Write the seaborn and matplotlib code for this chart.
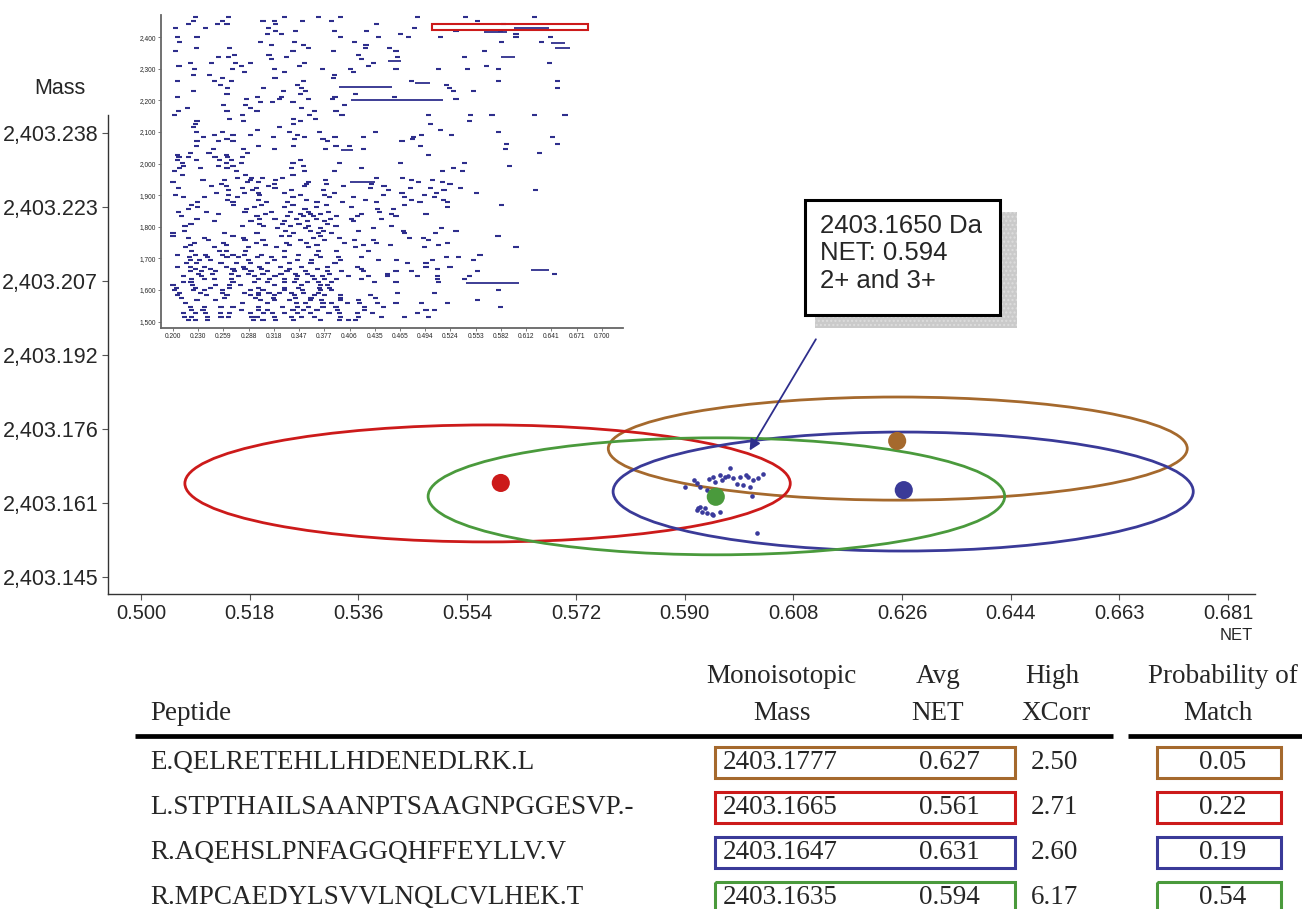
import numpy as np
import matplotlib
matplotlib.use("Agg")
import matplotlib.pyplot as plt
from matplotlib.patches import Ellipse, Rectangle
import seaborn as sns

# ---- main plot: match ellipses (brown, red, blue, green) ----
match_names = ["brown", "red", "blue", "green"]
match_colors = ["#a5692d", "#cc1a1a", "#3a3a98", "#4a9a3c"]
ell_net = [0.6260, 0.5577, 0.6269, 0.5958]
ell_mass = [2403.1719, 2403.1646, 2403.1629, 2403.1619]
ell_half_net = [0.0482, 0.0504, 0.0483, 0.0480]
ell_half_mass = [0.0108, 0.01225, 0.01246, 0.01225]
dot_net = [0.6259, 0.5599, 0.6270, 0.5957]
dot_mass = [2403.1735, 2403.1647, 2403.1632, 2403.1618]

# observed feature cluster (NET, mass)
cluster_net = [0.5906, 0.5920, 0.5925, 0.5931, 0.5942, 0.5953, 0.5964, 0.5972, 0.5981, 0.5986,
               0.5997, 0.6008, 0.6019, 0.6028, 0.6036, 0.5992, 0.6003, 0.6014, 0.6017, 0.5925,
               0.5934, 0.5942, 0.5953, 0.5964, 0.5931, 0.5939, 0.6025, 0.5956, 0.5967, 0.5946,
               0.5978, 0.6011, 0.5928, 0.5950]
cluster_mass = [2403.16379, 2403.16532, 2403.16463, 2403.16379, 2403.16322, 2403.16588, 2403.16637,
                2403.16601, 2403.16777, 2403.16567, 2403.16601, 2403.16637, 2403.16532, 2403.16567,
                2403.16657, 2403.16448, 2403.16421, 2403.16391, 2403.16197, 2403.15903, 2403.15868,
                2403.15834, 2403.15799, 2403.15868, 2403.15973, 2403.15939, 2403.15415, 2403.16496,
                2403.16532, 2403.16560, 2403.16620, 2403.16600, 2403.15950, 2403.15820]

callout_lines = ["2403.1650 Da", "NET: 0.594", "2+ and 3+"]
arrow_from = (0.6126, 2403.1953)
arrow_to = (0.6011, 2403.1710)

x_tick_labels = ["0.500", "0.518", "0.536", "0.554", "0.572", "0.590",
                 "0.608", "0.626", "0.644", "0.663", "0.681"]
y_tick_labels = ["2,403.145", "2,403.161", "2,403.176", "2,403.192",
                 "2,403.207", "2,403.223", "2,403.238"]

# ---- inset: all features (mass, list of NET) ----
inset_rows = [
    (2465, [0.226, 0.265, 0.330, 0.370, 0.395, 0.485, 0.541, 0.622]),
    (2452, [0.224, 0.258, 0.305, 0.318, 0.351, 0.385, 0.555]),
    (2442, [0.218, 0.252, 0.263, 0.320, 0.437, 0.585]),
    (2428, [0.203, 0.238, 0.311, 0.482]),
    (2418, [0.320, 0.343, 0.388, 0.426, 0.530, 0.582]),
    (2410, [0.310, 0.327, 0.465, 0.600]),
    (2400, [0.205, 0.228, 0.395, 0.440, 0.475, 0.512, 0.600, 0.640]),
    (2385, [0.208, 0.302, 0.342, 0.412, 0.583, 0.630]),
    (2376, [0.315, 0.352, 0.425]),
    (2365, [0.227, 0.266, 0.358, 0.424, 0.452]),
    (2355, [0.203, 0.340, 0.387, 0.460, 0.563]),
    (2345, [0.272, 0.312, 0.416]),
    (2337, [0.253, 0.265, 0.332, 0.462, 0.540]),
    (2330, [0.315, 0.420]),
    (2318, [0.220, 0.245, 0.273, 0.290, 0.353, 0.434, 0.639]),
    (2308, [0.207, 0.280, 0.348, 0.428, 0.566]),
    (2300, [0.225, 0.269, 0.318, 0.374, 0.407, 0.460, 0.510, 0.543, 0.580]),
    (2290, [0.283, 0.330, 0.410]),
    (2280, [0.224, 0.243, 0.388]),
    (2270, [0.258, 0.319, 0.387]),
    (2260, [0.205, 0.248, 0.268, 0.352, 0.478, 0.580, 0.648]),
    (2250, [0.255, 0.345, 0.519]),
    (2240, [0.264, 0.306, 0.350, 0.522, 0.648]),
    (2230, [0.224, 0.329, 0.355, 0.527, 0.550]),
    (2220, [0.263, 0.349, 0.413]),
    (2212, [0.205, 0.299, 0.327, 0.389, 0.458]),
    (2204, [0.286, 0.324, 0.358, 0.386, 0.530]),
    (2195, [0.302, 0.316, 0.340]),
    (2185, [0.259, 0.285, 0.400]),
    (2175, [0.217, 0.290, 0.350]),
    (2165, [0.206, 0.263, 0.298, 0.365, 0.390]),
    (2155, [0.202, 0.281, 0.359, 0.397, 0.498, 0.547, 0.572, 0.622, 0.657]),
    (2142, [0.266, 0.341, 0.366]),
    (2135, [0.228, 0.282, 0.349, 0.546]),
    (2125, [0.226, 0.341, 0.500]),
    (2115, [0.224, 0.324]),
    (2107, [0.299, 0.512]),
    (2100, [0.227, 0.258, 0.336, 0.371, 0.436, 0.580]),
    (2090, [0.248, 0.270, 0.290, 0.345, 0.490, 0.525]),
    (2085, [0.236, 0.317, 0.353, 0.389, 0.422, 0.480, 0.643]),
    (2078, [0.263, 0.342, 0.375, 0.479]),
    (2070, [0.228, 0.253, 0.270, 0.380, 0.467]),
    (2063, [0.589, 0.648]),
    (2056, [0.227, 0.300, 0.341, 0.390, 0.406, 0.489]),
    (2045, [0.247, 0.282, 0.318, 0.378, 0.422, 0.588]),
    (2035, [0.220, 0.242, 0.287, 0.627]),
    (2027, [0.205, 0.262, 0.498]),
    (2020, [0.207, 0.218, 0.249, 0.264, 0.281]),
    (2010, [0.205, 0.227, 0.254, 0.268, 0.349]),
    (2002, [0.211, 0.262, 0.280, 0.340, 0.394, 0.465, 0.540]),
    (1992, [0.212, 0.253, 0.270, 0.352, 0.592]),
    (1985, [0.208, 0.232, 0.263, 0.338, 0.420, 0.527]),
    (1975, [0.202, 0.274, 0.353, 0.388, 0.514, 0.538]),
    (1965, [0.211, 0.285, 0.340]),
    (1955, [0.275, 0.292, 0.304, 0.328, 0.437, 0.468]),
    (1948, [0.235, 0.260, 0.290, 0.320, 0.378, 0.478, 0.503]),
    (1942, [0.200, 0.287, 0.300, 0.358, 0.486, 0.514]),
    (1935, [0.257, 0.318, 0.356, 0.379, 0.431, 0.523]),
    (1928, [0.245, 0.262, 0.311, 0.353, 0.399, 0.446]),
    (1922, [0.206, 0.281, 0.297, 0.319, 0.430, 0.477, 0.500, 0.535]),
    (1915, [0.265, 0.293, 0.338, 0.376, 0.451, 0.516, 0.623]),
    (1908, [0.251, 0.283, 0.300, 0.330, 0.388, 0.467, 0.507, 0.554]),
    (1900, [0.203, 0.265, 0.301, 0.349, 0.377, 0.445, 0.493]),
    (1893, [0.212, 0.237, 0.275, 0.340, 0.383, 0.410, 0.470, 0.505]),
    (1885, [0.264, 0.300, 0.356, 0.424, 0.478, 0.515]),
    (1878, [0.229, 0.270, 0.309, 0.334, 0.368, 0.398, 0.437, 0.488, 0.520]),
    (1870, [0.222, 0.271, 0.303, 0.340, 0.379, 0.470, 0.583]),
    (1862, [0.229, 0.295, 0.330, 0.367, 0.408, 0.520]),
    (1855, [0.218, 0.286, 0.354, 0.438, 0.457]),
    (1848, [0.206, 0.239, 0.284, 0.315, 0.337, 0.358, 0.381, 0.441]),
    (1840, [0.253, 0.308, 0.349, 0.360, 0.372, 0.420, 0.455, 0.495]),
    (1833, [0.210, 0.298, 0.334, 0.352, 0.364, 0.391, 0.415, 0.460]),
    (1825, [0.228, 0.301, 0.319, 0.344, 0.367, 0.384, 0.408, 0.443]),
    (1818, [0.248, 0.291, 0.330, 0.357, 0.377, 0.410]),
    (1810, [0.221, 0.301, 0.328, 0.347, 0.380]),
    (1802, [0.214, 0.281, 0.306, 0.337, 0.358, 0.390, 0.455]),
    (1795, [0.322, 0.355, 0.372, 0.434, 0.513]),
    (1788, [0.213, 0.331, 0.360, 0.376, 0.416, 0.469, 0.530]),
    (1780, [0.200, 0.260, 0.298, 0.341, 0.370, 0.385, 0.470, 0.506]),
    (1772, [0.200, 0.270, 0.327, 0.336, 0.372, 0.579]),
    (1765, [0.218, 0.237, 0.282, 0.364, 0.394, 0.476, 0.492]),
    (1758, [0.241, 0.284, 0.305, 0.349, 0.377, 0.412, 0.434, 0.498]),
    (1750, [0.225, 0.259, 0.297, 0.332, 0.356, 0.400, 0.437, 0.520]),
    (1742, [0.220, 0.262, 0.308, 0.336, 0.368, 0.422, 0.454, 0.510]),
    (1735, [0.215, 0.248, 0.288, 0.321, 0.358, 0.413, 0.493, 0.600]),
    (1722, [0.222, 0.254, 0.262, 0.285, 0.330, 0.370, 0.391, 0.428]),
    (1712, [0.205, 0.226, 0.238, 0.258, 0.270, 0.283, 0.303, 0.346, 0.367, 0.558]),
    (1705, [0.219, 0.240, 0.263, 0.276, 0.299, 0.315, 0.330, 0.372, 0.393, 0.420, 0.519, 0.533]),
    (1695, [0.220, 0.231, 0.244, 0.288, 0.318, 0.345, 0.362, 0.395, 0.440, 0.461, 0.503, 0.550]),
    (1685, [0.216, 0.227, 0.256, 0.274, 0.290, 0.310, 0.336, 0.361, 0.389, 0.473, 0.495]),
    (1674, [0.205, 0.220, 0.237, 0.262, 0.282, 0.301, 0.325, 0.350, 0.380, 0.415, 0.495, 0.523]),
    (1668, [0.226, 0.244, 0.270, 0.284, 0.303, 0.336, 0.369, 0.420, 0.508]),
    (1660, [0.220, 0.233, 0.250, 0.272, 0.291, 0.310, 0.333, 0.355, 0.380, 0.396, 0.422, 0.460, 0.478, 0.555]),
    (1652, [0.230, 0.246, 0.268, 0.288, 0.305, 0.326, 0.343, 0.357, 0.383, 0.450, 0.645]),
    (1645, [0.212, 0.233, 0.276, 0.295, 0.319, 0.345, 0.363, 0.374, 0.405, 0.428, 0.450, 0.485, 0.508, 0.546]),
    (1635, [0.222, 0.237, 0.248, 0.268, 0.300, 0.313, 0.330, 0.344, 0.365, 0.377, 0.391, 0.420, 0.508, 0.540]),
    (1627, [0.212, 0.221, 0.270, 0.295, 0.310, 0.330, 0.342, 0.357, 0.370, 0.385, 0.435, 0.460, 0.510]),
    (1616, [0.200, 0.223, 0.250, 0.266, 0.279, 0.318, 0.350, 0.372, 0.380]),
    (1608, [0.204, 0.226, 0.244, 0.266, 0.300, 0.330, 0.346, 0.371, 0.383]),
    (1600, [0.202, 0.224, 0.237, 0.258, 0.290, 0.305, 0.330, 0.351, 0.372, 0.385, 0.580]),
    (1592, [0.208, 0.232, 0.258, 0.283, 0.300, 0.312, 0.324, 0.338, 0.352, 0.370, 0.462, 0.505]),
    (1584, [0.205, 0.239, 0.263, 0.290, 0.300, 0.318, 0.342, 0.365, 0.377, 0.395, 0.430]),
    (1575, [0.210, 0.260, 0.296, 0.317, 0.343, 0.361, 0.395, 0.436]),
    (1567, [0.228, 0.250, 0.302, 0.318, 0.336, 0.360, 0.373, 0.395, 0.416, 0.555]),
    (1558, [0.215, 0.281, 0.310, 0.344, 0.355, 0.375, 0.385, 0.403, 0.417, 0.438, 0.460, 0.490, 0.520]),
    (1547, [0.220, 0.237, 0.256, 0.270, 0.300, 0.328, 0.345, 0.358, 0.375, 0.390, 0.423, 0.445, 0.582]),
    (1537, [0.222, 0.235, 0.280, 0.300, 0.310, 0.340, 0.352, 0.368, 0.392, 0.423, 0.495, 0.505]),
    (1527, [0.212, 0.226, 0.238, 0.255, 0.266, 0.290, 0.306, 0.316, 0.330, 0.345, 0.360, 0.382, 0.394, 0.415, 0.433, 0.485]),
    (1516, [0.213, 0.222, 0.240, 0.256, 0.265, 0.292, 0.298, 0.318, 0.338, 0.350, 0.365, 0.395, 0.416, 0.443, 0.470, 0.498]),
    (1505, [0.218, 0.226, 0.240, 0.294, 0.305, 0.320, 0.341, 0.372, 0.394, 0.405, 0.413]),
]
# long features: (mass, net start, net end)
long_mass = [2200, 2243, 1622, 1663, 2430, 2415, 2365, 2383, 2337, 2256, 2325, 1943, 2043]
long_start = [0.408, 0.394, 0.542, 0.618, 0.598, 0.563, 0.645, 0.641, 0.583, 0.482, 0.451, 0.406, 0.396]
long_end = [0.515, 0.455, 0.603, 0.638, 0.638, 0.590, 0.663, 0.657, 0.599, 0.500, 0.466, 0.435, 0.410]
zoom_box = [0.502, 0.684, 2421, 2442]

inset_x_labels = ["0.200", "0.230", "0.259", "0.288", "0.318", "0.347", "0.377", "0.406", "0.435",
                  "0.465", "0.494", "0.524", "0.553", "0.582", "0.612", "0.641", "0.671", "0.700"]
inset_y_labels = ["1,500", "1,600", "1,700", "1,800", "1,900", "2,000", "2,100", "2,200", "2,300", "2,400"]

# ---- table ----
peptides = ["E.QELRETEHLLHDENEDLRK.L", "L.STPTHAILSAANPTSAAGNPGGESVP.-",
            "R.AQEHSLPNFAGGQHFFEYLLV.V", "R.MPCAEDYLSVVLNQLCVLHEK.T"]
mono_mass = ["2403.1777", "2403.1665", "2403.1647", "2403.1635"]
avg_net = ["0.627", "0.561", "0.631", "0.594"]
high_xcorr = ["2.50", "2.71", "2.60", "6.17"]
prob_match = ["0.05", "0.22", "0.19", "0.54"]

sns.set_style("ticks")
plt.rcParams['font.family'] = ['Liberation Sans', 'DejaVu Sans']
navy = "#2e2e8c"

fig = plt.figure(figsize=(13.02, 9.09), dpi=100)
ax = fig.add_axes([108/1302, 1-594/909, 1147/1302, 479/909])

for i in range(4):
    ax.add_patch(Ellipse((ell_net[i], ell_mass[i]), 2*ell_half_net[i], 2*ell_half_mass[i],
                         fill=False, ec=match_colors[i], lw=2.0, zorder=2))

sns.scatterplot(x=cluster_net, y=cluster_mass, ax=ax, color="#3a3a9c", s=11,
                linewidth=0, zorder=3)
sns.scatterplot(x=dot_net, y=dot_mass, hue=match_names, palette=dict(zip(match_names, match_colors)),
                s=170, ax=ax, legend=False, linewidth=0, zorder=4)

ax.annotate("", xy=arrow_to, xytext=arrow_from,
            arrowprops=dict(arrowstyle="-|>", color=navy, lw=1.3, mutation_scale=16), zorder=5)

# callout box with shadow
ax.add_patch(Rectangle((0.6164, 0.5553), 0.1761, 0.2422, transform=ax.transAxes,
                       fc="#cacaca", ec="#dddddd", hatch="....", lw=0, zorder=5))
ax.add_patch(Rectangle((0.6077, 0.5825), 0.1700, 0.2400, transform=ax.transAxes,
                       fc="white", ec="black", lw=2.2, zorder=6))
for k, line in enumerate(callout_lines):
    ax.text(0.6207, (594 - (226 + 27.5*k))/479, line, transform=ax.transAxes, fontsize=18.5,
            va="center", ha="left", zorder=7)

ax.set_xlim(0.49450, 0.68548)
ax.set_ylim(2403.14144, 2403.24177)
ax.set_xticks(np.linspace(0.500, 0.681, 11))
ax.set_xticklabels(x_tick_labels, fontsize=14.5)
ax.set_yticks(np.linspace(2403.145, 2403.238, 7))
ax.set_yticklabels(y_tick_labels, fontsize=15.5)
ax.tick_params(direction="out", length=4, width=0.8, color="#555555", pad=3)
sns.despine(ax=ax)
for s in ["left", "bottom"]:
    ax.spines[s].set_color("#333333")
    ax.spines[s].set_linewidth(1.0)

fig.text(60/1302, 1-88/909, "Mass", ha="center", va="center", fontsize=15.5)
fig.text(1236/1302, 1-636/909, "NET", ha="center", va="center", fontsize=12)

# ---- inset ----
ins = fig.add_axes([160.7/1302, 1-328.3/909, (623-160.7)/1302, (328.3-15)/909])
ins.set_facecolor("white")
ins_mass = np.concatenate([[m]*len(n) for m, n in inset_rows])
ins_net = np.concatenate([n for m, n in inset_rows])
ins.hlines(ins_mass, ins_net - 0.003, ins_net + 0.003, color=navy, lw=1.5)
ins.hlines(long_mass, long_start, long_end, color=navy, lw=1.3)
ins.add_patch(Rectangle((zoom_box[0], zoom_box[2]), zoom_box[1]-zoom_box[0], zoom_box[3]-zoom_box[2],
                        fill=False, ec="#cc1a1a", lw=1.5, zorder=4))
ins.set_xlim(0.1857, 0.7247)
ins.set_ylim(1479, 2470)
ins.set_xticks(np.linspace(0.2, 0.7, 18))
ins.set_xticklabels(inset_x_labels, fontsize=4.8)
ins.set_yticks(np.arange(1500, 2401, 100))
ins.set_yticklabels(inset_y_labels, fontsize=4.8)
ins.tick_params(direction="out", length=2, width=0.6, pad=1.5, color="#666666")
sns.despine(ax=ins)
for s in ["left", "bottom"]:
    ins.spines[s].set_color("#666666")
    ins.spines[s].set_linewidth(1.3)

# ---- table ----
tab = fig.add_axes([0, 0, 1, 269/909])
tab.set_xlim(0, 1302)
tab.set_ylim(909, 640)
tab.axis("off")
serif = ['Liberation Serif', 'DejaVu Serif']
fs = 19.5
hdr_top, hdr_bot = 676, 713
tab.text(781, hdr_top, "Monoisotopic", ha="center", va="center", family=serif, fontsize=fs)
tab.text(782, hdr_bot, "Mass", ha="center", va="center", family=serif, fontsize=fs)
tab.text(938, hdr_top, "Avg", ha="center", va="center", family=serif, fontsize=fs)
tab.text(938, hdr_bot, "NET", ha="center", va="center", family=serif, fontsize=fs)
tab.text(1052, hdr_top, "High", ha="center", va="center", family=serif, fontsize=fs)
tab.text(1056, hdr_bot, "XCorr", ha="center", va="center", family=serif, fontsize=fs)
tab.text(1223, hdr_top, "Probability of", ha="center", va="center", family=serif, fontsize=fs)
tab.text(1218, hdr_bot, "Match", ha="center", va="center", family=serif, fontsize=fs)
tab.text(150, hdr_bot, "Peptide", ha="left", va="center", family=serif, fontsize=fs)
tab.plot([135, 1113], [736, 736], color="black", lw=3.4, solid_capstyle="butt")
tab.plot([1128, 1302], [736, 736], color="black", lw=3.4, solid_capstyle="butt")

row_y = [762, 807, 852, 897]
for i in range(4):
    y = row_y[i]
    tab.text(150, y, peptides[i], ha="left", va="center", family=serif, fontsize=fs)
    tab.text(723, y, mono_mass[i], ha="left", va="center", family=serif, fontsize=fs)
    tab.text(949, y, avg_net[i], ha="center", va="center", family=serif, fontsize=fs)
    tab.text(1054, y, high_xcorr[i], ha="center", va="center", family=serif, fontsize=fs)
    tab.text(1223, y, prob_match[i], ha="center", va="center", family=serif, fontsize=fs)
    tab.add_patch(Rectangle((715, y-15), 300, 31, fill=False, ec=match_colors[i], lw=2.2))
    tab.add_patch(Rectangle((1157, y-15), 124, 31, fill=False, ec=match_colors[i], lw=2.2))

fig.savefig("out.png", dpi=100)
